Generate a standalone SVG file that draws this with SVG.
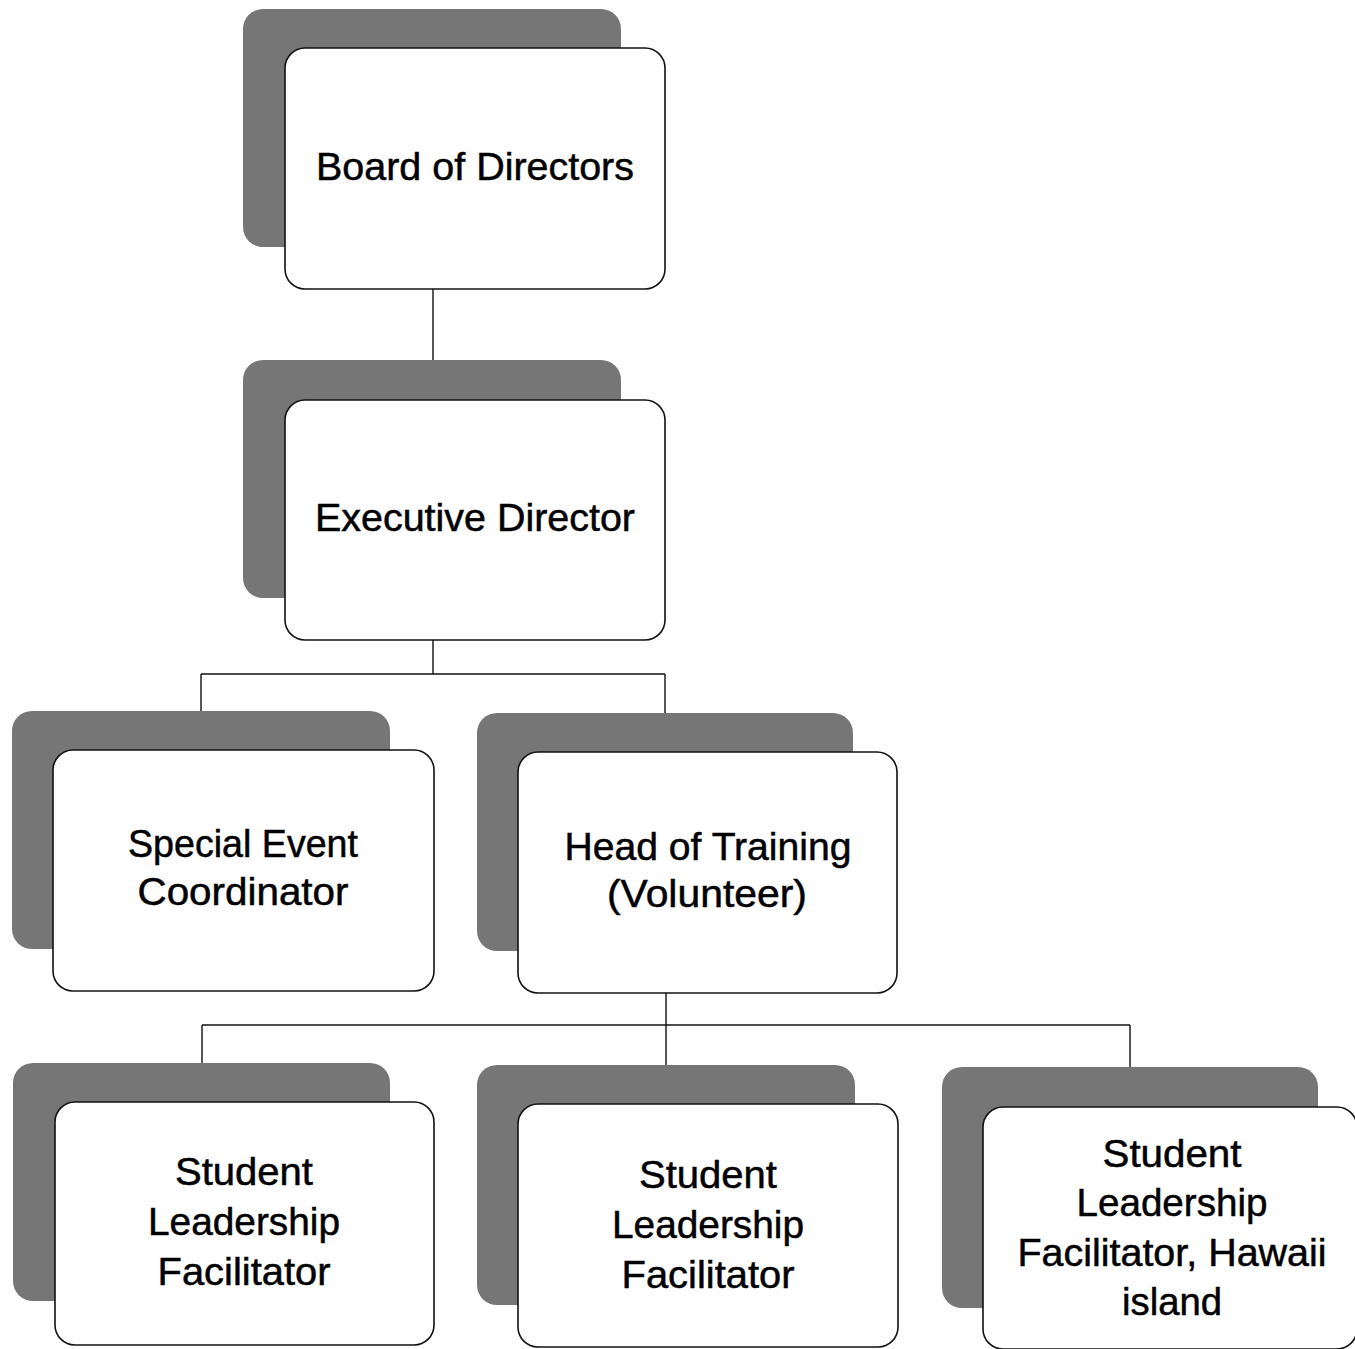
<svg xmlns="http://www.w3.org/2000/svg" width="1355" height="1349" viewBox="0 0 1355 1349">
  <style>
    .shadow { fill: #767676; }
    .card { fill: #ffffff; stroke: #111111; stroke-width: 1.6; }
    .label { font-family: "Liberation Sans", Arial, sans-serif; font-size: 38px; fill: #000000; stroke: #000000; stroke-width: 0.5; text-anchor: middle; }
    .link { fill: none; stroke: #111111; stroke-width: 1.4; }
  </style>
  <rect width="1355" height="1349" fill="#ffffff"/>

  <!-- reporting lines -->
  <g id="connectors">
    <path class="link" d="M433 289 V400"/>
    <path class="link" d="M433 640 V674 M201 674 H665 M201 674 V711 M665 674 V713"/>
    <path class="link" d="M666 993 V1025 M202 1025 H1130 M202 1025 V1063 M666 1025 V1065 M1130 1025 V1067"/>
  </g>

  <g id="board-of-directors">
    <rect class="shadow" x="243" y="9" width="378" height="238" rx="20"/>
    <rect class="card" x="285" y="48" width="380" height="241" rx="20"/>
    <text class="label" x="475" y="180" textLength="318" lengthAdjust="spacingAndGlyphs">Board of Directors</text>
  </g>

  <g id="executive-director">
    <rect class="shadow" x="243" y="360" width="378" height="238" rx="20"/>
    <rect class="card" x="285" y="400" width="380" height="240" rx="20"/>
    <text class="label" x="475" y="531" textLength="320" lengthAdjust="spacingAndGlyphs">Executive Director</text>
  </g>

  <g id="special-event-coordinator">
    <rect class="shadow" x="12" y="711" width="378" height="238" rx="20"/>
    <rect class="card" x="53" y="750" width="381" height="241" rx="20"/>
    <text class="label" x="243" y="857" textLength="230" lengthAdjust="spacingAndGlyphs">Special Event</text>
    <text class="label" x="243" y="905" textLength="211" lengthAdjust="spacingAndGlyphs">Coordinator</text>
  </g>

  <g id="head-of-training">
    <rect class="shadow" x="477" y="713" width="376" height="238" rx="20"/>
    <rect class="card" x="518" y="752" width="379" height="241" rx="20"/>
    <text class="label" x="708" y="860" textLength="287" lengthAdjust="spacingAndGlyphs">Head of Training</text>
    <text class="label" x="707" y="907" textLength="200" lengthAdjust="spacingAndGlyphs">(Volunteer)</text>
  </g>

  <g id="student-leadership-facilitator-1">
    <rect class="shadow" x="13" y="1063" width="377" height="238" rx="20"/>
    <rect class="card" x="55" y="1102" width="379" height="243" rx="20"/>
    <text class="label" x="244" y="1185" textLength="138" lengthAdjust="spacingAndGlyphs">Student</text>
    <text class="label" x="244" y="1235" textLength="192" lengthAdjust="spacingAndGlyphs">Leadership</text>
    <text class="label" x="244" y="1285" textLength="173" lengthAdjust="spacingAndGlyphs">Facilitator</text>
  </g>

  <g id="student-leadership-facilitator-2">
    <rect class="shadow" x="477" y="1065" width="378" height="240" rx="20"/>
    <rect class="card" x="518" y="1104" width="380" height="243" rx="20"/>
    <text class="label" x="708" y="1188" textLength="138" lengthAdjust="spacingAndGlyphs">Student</text>
    <text class="label" x="708" y="1238" textLength="192" lengthAdjust="spacingAndGlyphs">Leadership</text>
    <text class="label" x="708" y="1288" textLength="173" lengthAdjust="spacingAndGlyphs">Facilitator</text>
  </g>

  <g id="student-leadership-facilitator-hawaii">
    <rect class="shadow" x="942" y="1067" width="376" height="241" rx="20"/>
    <rect class="card" x="983" y="1107" width="374" height="242" rx="20"/>
    <text class="label" x="1172" y="1167" textLength="139" lengthAdjust="spacingAndGlyphs">Student</text>
    <text class="label" x="1172" y="1216" textLength="191" lengthAdjust="spacingAndGlyphs">Leadership</text>
    <text class="label" x="1172" y="1266" textLength="309" lengthAdjust="spacingAndGlyphs">Facilitator, Hawaii</text>
    <text class="label" x="1172" y="1315" textLength="100" lengthAdjust="spacingAndGlyphs">island</text>
  </g>
</svg>
